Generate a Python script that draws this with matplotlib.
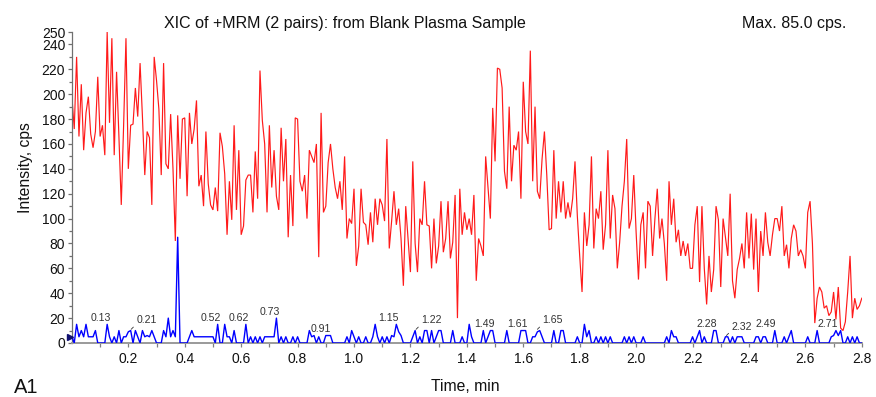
import numpy as np
import matplotlib
matplotlib.use("Agg")
import matplotlib.pyplot as plt
from matplotlib import transforms

plt.rcParams['font.family'] = ['Liberation Sans', 'DejaVu Sans']

# ---------------- data ----------------
# sampling: 12 points per 0.1 min, 0.0 .. 2.8 min
n_blocks = 28
pts_per_block = 12

# red trace (cps), one row per 0.1 min
red_rows = [
    [198, 172, 230, 166, 208, 155, 185, 198, 168, 157, 170, 214],
    [166, 175, 151, 250, 177, 245, 151, 218, 166, 111, 175, 245],
    [140, 175, 176, 205, 182, 225, 182, 135, 170, 165, 111, 230],
    [211, 188, 135, 225, 144, 140, 184, 140, 82, 183, 132, 180],
    [181, 118, 185, 160, 172, 195, 126, 135, 110, 170, 128, 111],
    [107, 125, 106, 169, 158, 136, 87, 130, 99, 175, 107, 155],
    [87, 94, 131, 135, 135, 105, 154, 116, 219, 179, 160, 105],
    [175, 125, 155, 118, 107, 173, 130, 164, 85, 135, 94, 181],
    [180, 130, 122, 135, 100, 155, 150, 145, 160, 69, 185, 105],
    [110, 145, 160, 140, 125, 116, 130, 107, 150, 84, 100, 96],
    [124, 62, 78, 124, 97, 95, 79, 105, 81, 116, 95, 116],
    [111, 98, 164, 76, 98, 122, 95, 108, 84, 46, 110, 84],
    [57, 146, 80, 57, 100, 95, 130, 95, 94, 60, 100, 64],
    [78, 114, 73, 84, 114, 68, 81, 119, 20, 124, 87, 105],
    [91, 100, 87, 119, 50, 84, 78, 70, 150, 125, 100, 189],
    [146, 221, 220, 205, 138, 124, 190, 130, 159, 155, 170, 116],
    [210, 170, 160, 235, 130, 190, 122, 116, 148, 170, 135, 91],
    [92, 155, 100, 130, 105, 130, 100, 113, 101, 116, 146, 102],
    [70, 41, 105, 78, 95, 150, 76, 108, 100, 122, 75, 95],
    [155, 84, 119, 108, 60, 81, 110, 130, 164, 92, 100, 135],
    [89, 51, 95, 105, 60, 114, 110, 70, 100, 124, 84, 100],
    [80, 50, 130, 95, 116, 81, 91, 70, 82, 70, 80, 60],
    [60, 95, 110, 49, 110, 60, 31, 70, 41, 59, 110, 99],
    [45, 100, 85, 70, 120, 50, 36, 59, 68, 80, 60, 105],
    [68, 104, 59, 100, 41, 90, 70, 105, 81, 70, 87, 100],
    [100, 90, 110, 70, 79, 60, 84, 95, 90, 70, 75, 70],
    [60, 105, 114, 80, 16, 36, 45, 41, 28, 30, 22, 25],
    [41, 19, 45, 12, 10, 17, 41, 70, 20, 36, 27, 30],
]
red_last = 36

# blue trace (cps), one row per 0.1 min
blue_rows = [
    [5, 0, 15, 5, 10, 5, 15, 5, 5, 5, 10, 0],
    [0, 0, 0, 15, 5, 0, 5, 0, 10, 0, 5, 5],
    [9, 10, 0, 10, 5, 0, 10, 5, 6, 5, 10, 5],
    [0, 0, 0, 10, 5, 20, 5, 10, 5, 85, 0, 0],
    [0, 0, 5, 10, 5, 5, 5, 5, 5, 5, 5, 5],
    [5, 0, 15, 0, 0, 15, 5, 5, 0, 10, 0, 0],
    [0, 0, 15, 0, 5, 0, 5, 0, 5, 0, 5, 5],
    [5, 5, 5, 20, 0, 5, 0, 5, 0, 0, 5, 0],
    [5, 0, 0, 0, 0, 10, 5, 6, 0, 5, 0, 0],
    [6, 6, 6, 0, 0, 0, 0, 0, 0, 5, 0, 10],
    [5, 0, 5, 0, 0, 5, 0, 0, 5, 15, 5, 0],
    [5, 0, 5, 0, 6, 5, 15, 9, 6, 0, 0, 0],
    [0, 5, 10, 0, 5, 0, 10, 10, 0, 10, 0, 5],
    [10, 10, 0, 0, 0, 0, 10, 0, 0, 0, 5, 0],
    [0, 15, 5, 0, 0, 0, 0, 10, 0, 5, 10, 10],
    [0, 0, 0, 0, 0, 10, 0, 0, 0, 0, 0, 10],
    [10, 10, 0, 0, 5, 5, 9, 10, 5, 0, 0, 0],
    [0, 10, 0, 0, 10, 10, 0, 0, 0, 0, 0, 5],
    [0, 0, 15, 5, 10, 0, 0, 5, 0, 5, 0, 5],
    [0, 5, 0, 0, 0, 0, 0, 5, 0, 5, 0, 5],
    [0, 0, 0, 5, 0, 0, 0, 0, 0, 0, 0, 0],
    [0, 5, 0, 10, 5, 5, 0, 0, 0, 0, 0, 0],
    [5, 0, 5, 10, 0, 5, 0, 0, 0, 10, 10, 0],
    [0, 0, 5, 5, 0, 5, 0, 5, 5, 5, 0, 0],
    [0, 0, 0, 5, 5, 0, 5, 5, 0, 0, 0, 10],
    [0, 0, 0, 5, 0, 5, 10, 0, 0, 0, 0, 0],
    [0, 5, 0, 0, 0, 10, 0, 0, 0, 0, 0, 5],
    [6, 10, 6, 10, 0, 0, 5, 0, 5, 0, 5, 0],
]
blue_last = 0

# peak labels on the blue trace
peak_times = [0.13, 0.21, 0.52, 0.62, 0.73, 0.91, 1.15, 1.22, 1.49, 1.61,
              1.65, 2.28, 2.32, 2.49, 2.71]
peak_texts = ["0.13", "0.21", "0.52", "0.62", "0.73", "0.91", "1.15", "1.22",
              "1.49", "1.61", "1.65", "2.28", "2.32", "2.49", "2.71"]
peak_leader = ["0.21", "1.22", "1.65", "2.32"]

x_ticks = [0.2, 0.4, 0.6, 0.8, 1.0, 1.2, 1.4, 1.6, 1.8, 2.0, 2.2, 2.4, 2.6, 2.8]
y_ticks = [0, 20, 40, 60, 80, 100, 120, 140, 160, 180, 200, 220, 240, 250]

title = "XIC of +MRM (2 pairs): from Blank Plasma Sample"
max_text = "Max. 85.0 cps."

# ---------------- build series ----------------
red = np.array([v for row in red_rows for v in row] + [red_last], dtype=float)
blue = np.array([v for row in blue_rows for v in row] + [blue_last], dtype=float)
time = np.linspace(0.0, 2.8, n_blocks * pts_per_block + 1)

W, H = 876, 397
fig = plt.figure(figsize=(W / 100, H / 100), dpi=100)
ax_l, ax_r, ax_t, ax_b = 71.9, 861.8, 32.0, 343.0
ax = fig.add_axes([ax_l / W, 1 - ax_b / H, (ax_r - ax_l) / W, (ax_b - ax_t) / H])

ax.plot(time, red, color='#ff1a1a', lw=0.85, zorder=2, solid_joinstyle='miter')
ax.plot(time, blue, color='#0000ff', lw=1.0, zorder=3)

# start-of-trace marker
tr = transforms.offset_copy(ax.transData, fig=fig, x=-1.5, y=0, units='dots')
ax.plot([time[0]], [blue[0] - 0.5], marker='>', color='#101070', markersize=5,
        transform=tr, clip_on=False, zorder=5)

ax.set_xlim(0, 2.8)
ax.set_ylim(0, 250)

for s in ['top', 'right']:
    ax.spines[s].set_visible(False)
ax.spines['left'].set_color('#707070')
ax.spines['left'].set_linewidth(0.9)
ax.spines['bottom'].set_color('#9a9a9a')
ax.spines['bottom'].set_linewidth(1.4)

ax.set_xticks(x_ticks)
ax.set_xticklabels([f"{v:.1f}" for v in x_ticks])
ax.set_xticks(np.arange(0.1, 2.81, 0.2), minor=True)
ax.set_yticks(y_ticks)
ax.set_yticklabels([str(v) for v in y_ticks])
ax.set_yticks(np.arange(10, 240, 20), minor=True)

ax.tick_params(axis='x', which='major', length=3, width=0.9, color='#808080',
               pad=3.3, labelsize=10, labelcolor='#111111')
ax.tick_params(axis='x', which='minor', length=3, width=0.9, color='#808080')
ax.tick_params(axis='y', which='major', length=3.2, width=0.9, color='#707070',
               pad=1.6, labelsize=10, labelcolor='#111111')
ax.tick_params(axis='y', which='minor', length=2.2, width=0.9, color='#707070')

# peak labels
for t, txt in zip(peak_times, peak_texts):
    sel = np.abs(time - t) <= 0.012
    yv = blue[sel].max()
    if txt in peak_leader:
        ax.annotate(txt, xy=(t, yv + 1), xytext=(5, 9), textcoords='offset pixels',
                    ha='left', va='center', fontsize=7.6, color='#333333',
                    arrowprops=dict(arrowstyle='-', lw=0.6, color='#333333',
                                    shrinkA=0, shrinkB=0, relpos=(0.0, 0.1)),
                    zorder=6)
    else:
        ax.annotate(txt, xy=(t, yv), xytext=(2, 6.5), textcoords='offset pixels',
                    ha='right', va='center', fontsize=7.6, color='#333333', zorder=6)

# texts
fig.text(345 / W, 1 - 28.3 / H, title, ha='center', va='baseline', fontsize=11.5,
         color='#111111')
fig.text(846 / W, 1 - 28.3 / H, max_text, ha='right', va='baseline', fontsize=11.5,
         color='#111111')
fig.text(25.6 / W, 1 - 167.5 / H, "Intensity, cps", rotation=90, ha='center',
         va='center', fontsize=11.3, color='#111111')
fig.text(465.5 / W, 1 - 391 / H, "Time, min", ha='center', va='baseline',
         fontsize=11.3, color='#111111')
fig.text(14 / W, 1 - 393.3 / H, "A1", ha='left', va='baseline', fontsize=14.5,
         color='#111111')

fig.savefig("out.png", dpi=100)
